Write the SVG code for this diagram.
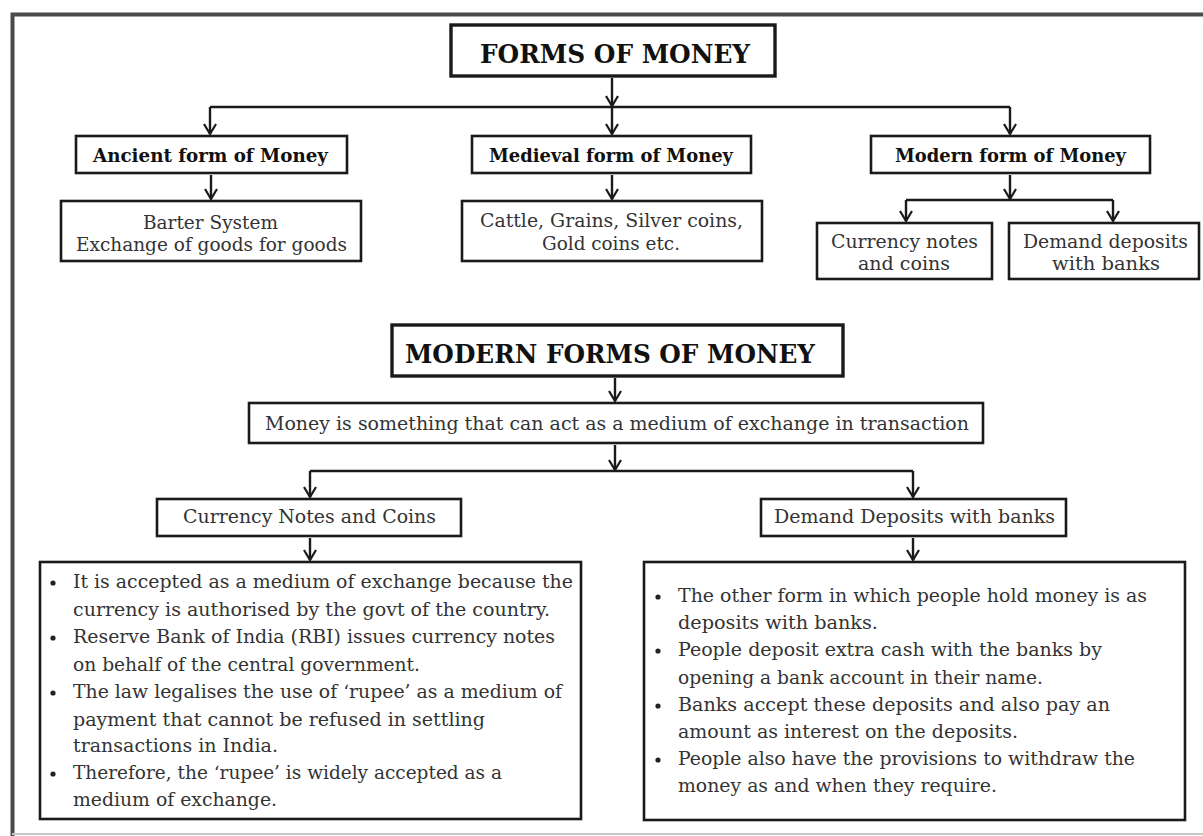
<svg xmlns="http://www.w3.org/2000/svg" width="1203" height="836" viewBox="0 0 1203 836">
<defs>
<marker id="arr" markerUnits="userSpaceOnUse" markerWidth="14" markerHeight="14" viewBox="0 0 14 14" refX="12" refY="7" orient="auto">
<path d="M2,1 L12,7 L2,13" fill="none" stroke="#1a1a1a" stroke-width="2.2"/>
</marker>
<style>
.box{fill:#fff;stroke:#1a1a1a;stroke-width:2.6}
.tbox{fill:#fff;stroke:#1a1a1a;stroke-width:3.4}
.con{fill:none;stroke:#1a1a1a;stroke-width:2.4}
.arr{fill:none;stroke:#1a1a1a;stroke-width:2.4;marker-end:url(#arr)}
.title{font-family:"DejaVu Serif",serif;font-weight:bold;font-size:26px;fill:#111;text-anchor:middle}
.sub{font-family:"DejaVu Serif",serif;font-weight:bold;font-size:18px;fill:#111;text-anchor:middle}
.txt{font-family:"DejaVu Serif",serif;font-size:18px;fill:#333;text-anchor:middle}
.bl{font-family:"DejaVu Serif",serif;font-size:18px;fill:#333}
.dot{fill:#222}
</style>
</defs>
<rect x="0" y="0" width="1203" height="836" fill="#fff"/>
<path d="M12.5,836 L12.5,14.5 L1203,14.5" fill="none" stroke="#4a4a4a" stroke-width="4"/>
<line x1="12" y1="834" x2="1203" y2="834" stroke="#c8c8c8" stroke-width="2"/>

<g id="connectors">
<line class="arr" x1="612" y1="78" x2="612" y2="106"/>
<path class="con" d="M210,107 L1010,107"/>
<line class="arr" x1="210" y1="107" x2="210" y2="134"/>
<line class="arr" x1="612" y1="107" x2="612" y2="134"/>
<line class="arr" x1="1010" y1="107" x2="1010" y2="134"/>
<line class="arr" x1="211" y1="175" x2="211" y2="199"/>
<line class="arr" x1="612" y1="175" x2="612" y2="199"/>
<line class="arr" x1="1010" y1="175" x2="1010" y2="199"/>
<path class="con" d="M906,200 L1113,200"/>
<line class="arr" x1="906" y1="200" x2="906" y2="221"/>
<line class="arr" x1="1113" y1="200" x2="1113" y2="221"/>
<line class="arr" x1="615" y1="378" x2="615" y2="401"/>
<line class="arr" x1="615" y1="445" x2="615" y2="470"/>
<path class="con" d="M310,471 L913,471"/>
<line class="arr" x1="310" y1="471" x2="310" y2="497"/>
<line class="arr" x1="913" y1="471" x2="913" y2="497"/>
<line class="arr" x1="310" y1="538" x2="310" y2="560"/>
<line class="arr" x1="913" y1="538" x2="913" y2="560"/>
</g>

<g id="forms-of-money">
<rect class="tbox" x="451" y="25" width="324" height="51"/>
<text class="title" x="615" y="63" textLength="270" lengthAdjust="spacingAndGlyphs">FORMS OF MONEY</text>
</g>
<g id="ancient">
<rect class="box" x="76" y="136" width="271" height="37"/>
<text class="sub" x="210.5" y="162" textLength="235" lengthAdjust="spacingAndGlyphs">Ancient form of Money</text>
</g>
<g id="medieval">
<rect class="box" x="472" y="136" width="279" height="37"/>
<text class="sub" x="611" y="162" textLength="244" lengthAdjust="spacingAndGlyphs">Medieval form of Money</text>
</g>
<g id="modern">
<rect class="box" x="871" y="136" width="279" height="37"/>
<text class="sub" x="1010.5" y="162" textLength="231" lengthAdjust="spacingAndGlyphs">Modern form of Money</text>
</g>
<g id="barter">
<rect class="box" x="61" y="201" width="300" height="60"/>
<text class="txt" x="210.5" y="229" textLength="135" lengthAdjust="spacingAndGlyphs">Barter System</text>
<text class="txt" x="211.5" y="251" textLength="271" lengthAdjust="spacingAndGlyphs">Exchange of goods for goods</text>
</g>
<g id="cattle">
<rect class="box" x="462" y="201" width="300" height="60"/>
<text class="txt" x="611.5" y="227" textLength="263" lengthAdjust="spacingAndGlyphs">Cattle, Grains, Silver coins,</text>
<text class="txt" x="611" y="250" textLength="138" lengthAdjust="spacingAndGlyphs">Gold coins etc.</text>
</g>
<g id="currency-notes-top">
<rect class="box" x="817" y="223" width="175" height="56"/>
<text class="txt" x="904.5" y="248" textLength="147" lengthAdjust="spacingAndGlyphs">Currency notes</text>
<text class="txt" x="904" y="270" textLength="92" lengthAdjust="spacingAndGlyphs">and coins</text>
</g>
<g id="demand-deposits-top">
<rect class="box" x="1009" y="223" width="190" height="56"/>
<text class="txt" x="1105.5" y="248" textLength="165" lengthAdjust="spacingAndGlyphs">Demand deposits</text>
<text class="txt" x="1106" y="270" textLength="108" lengthAdjust="spacingAndGlyphs">with banks</text>
</g>

<g id="modern-forms-of-money">
<rect class="tbox" x="392" y="325" width="451" height="51"/>
<text class="title" x="610" y="363" textLength="410" lengthAdjust="spacingAndGlyphs">MODERN FORMS OF MONEY</text>
</g>
<g id="definition">
<rect class="box" x="249" y="403" width="734" height="40"/>
<text class="txt" x="617" y="430" textLength="704" lengthAdjust="spacingAndGlyphs">Money is something that can act as a medium of exchange in transaction</text>
</g>
<g id="currency-notes-coins">
<rect class="box" x="157" y="499" width="304" height="37"/>
<text class="txt" x="309.5" y="523" textLength="253" lengthAdjust="spacingAndGlyphs">Currency Notes and Coins</text>
</g>
<g id="demand-deposits-banks">
<rect class="box" x="761" y="499" width="305" height="37"/>
<text class="txt" x="914.5" y="523" textLength="281" lengthAdjust="spacingAndGlyphs">Demand Deposits with banks</text>
</g>

<g id="currency-details">
<rect class="box" x="40" y="562" width="541" height="257"/>
<circle class="dot" cx="53" cy="583" r="2.6"/>
<circle class="dot" cx="53" cy="638" r="2.6"/>
<circle class="dot" cx="53" cy="693" r="2.6"/>
<circle class="dot" cx="53" cy="774" r="2.6"/>
<text class="bl" x="73" y="588" textLength="500" lengthAdjust="spacingAndGlyphs">It is accepted as a medium of exchange because the</text>
<text class="bl" x="73" y="616" textLength="477" lengthAdjust="spacingAndGlyphs">currency is authorised by the govt of the country.</text>
<text class="bl" x="73" y="643" textLength="482" lengthAdjust="spacingAndGlyphs">Reserve Bank of India (RBI) issues currency notes</text>
<text class="bl" x="73" y="671" textLength="347" lengthAdjust="spacingAndGlyphs">on behalf of the central government.</text>
<text class="bl" x="73" y="698" textLength="489" lengthAdjust="spacingAndGlyphs">The law legalises the use of &#8216;rupee&#8217; as a medium of</text>
<text class="bl" x="73" y="726" textLength="412" lengthAdjust="spacingAndGlyphs">payment that cannot be refused in settling</text>
<text class="bl" x="73" y="752" textLength="205" lengthAdjust="spacingAndGlyphs">transactions in India.</text>
<text class="bl" x="73" y="779" textLength="429" lengthAdjust="spacingAndGlyphs">Therefore, the &#8216;rupee&#8217; is widely accepted as a</text>
<text class="bl" x="73" y="806" textLength="204" lengthAdjust="spacingAndGlyphs">medium of exchange.</text>
</g>

<g id="deposit-details">
<rect class="box" x="644" y="562" width="541" height="258"/>
<circle class="dot" cx="658" cy="597" r="2.6"/>
<circle class="dot" cx="658" cy="651" r="2.6"/>
<circle class="dot" cx="658" cy="706" r="2.6"/>
<circle class="dot" cx="658" cy="760" r="2.6"/>
<text class="bl" x="678" y="602" textLength="469" lengthAdjust="spacingAndGlyphs">The other form in which people hold money is as</text>
<text class="bl" x="678" y="629" textLength="200" lengthAdjust="spacingAndGlyphs">deposits with banks.</text>
<text class="bl" x="678" y="656" textLength="424" lengthAdjust="spacingAndGlyphs">People deposit extra cash with the banks by</text>
<text class="bl" x="678" y="684" textLength="365" lengthAdjust="spacingAndGlyphs">opening a bank account in their name.</text>
<text class="bl" x="678" y="711" textLength="432" lengthAdjust="spacingAndGlyphs">Banks accept these deposits and also pay an</text>
<text class="bl" x="678" y="738" textLength="340" lengthAdjust="spacingAndGlyphs">amount as interest on the deposits.</text>
<text class="bl" x="678" y="765" textLength="457" lengthAdjust="spacingAndGlyphs">People also have the provisions to withdraw the</text>
<text class="bl" x="678" y="792" textLength="319" lengthAdjust="spacingAndGlyphs">money as and when they require.</text>
</g>
</svg>
